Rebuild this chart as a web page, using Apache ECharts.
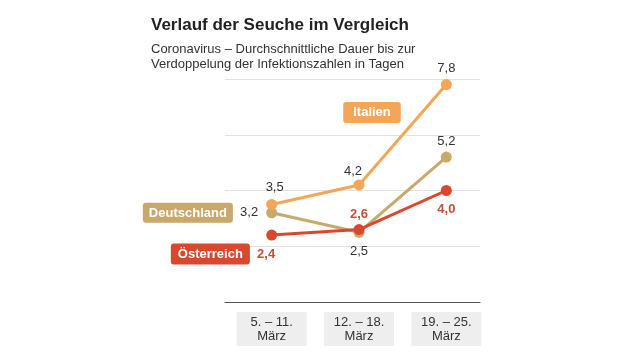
<!DOCTYPE html>
<html>
<head>
<meta charset="utf-8">
<script src="https://cdn.jsdelivr.net/npm/echarts@6/dist/echarts.min.js"></script>
<style>html,body{margin:0;padding:0;background:#fff}#c{width:630px;height:356px}</style>
</head>
<body>
<div id="c"></div>
<script>
const categories = ['5. – 11.\nMärz', '12. – 18.\nMärz', '19. – 25.\nMärz'];
const italien = [3.5, 4.2, 7.8];
const deutschland = [3.2, 2.5, 5.2];
const oesterreich = [2.4, 2.6, 4.0];
const yTicks = [0, 2, 4, 6, 8];
const italienBoxValue = 6.8;

const FONT = '"Liberation Sans", Arial, sans-serif';
const C_IT = '#f4a658', C_DE = '#c8a86b', C_AT = '#d9482c';
const fmt = v => v.toFixed(1).replace('.', ',');

function pts(vals, labels) {
  return vals.map((v, i) => ({ value: v, label: labels[i] }));
}

const chart = echarts.init(document.getElementById('c'), null, { renderer: 'canvas' });
const valLbl = { color: '#333', fontSize: 13, fontFamily: FONT };
const atLbl = { color: '#c0503a', fontSize: 13, fontWeight: 'bold', fontFamily: FONT };

chart.setOption({
  backgroundColor: '#fff',
  animation: false,
  title: {
    left: 146, top: 12,
    text: 'Verlauf der Seuche im Vergleich',
    textStyle: { fontSize: 17, fontWeight: 'bold', color: '#222', fontFamily: FONT },
    subtext: 'Coronavirus – Durchschnittliche Dauer bis zur\nVerdoppelung der Infektionszahlen in Tagen',
    subtextStyle: { fontSize: 13, color: '#333', lineHeight: 15, fontFamily: FONT },
    itemGap: 8
  },
  grid: [
    { left: 228, width: 262, top: 79, height: 223 },
    { left: 225, width: 255, top: 79, height: 223 }
  ],
  xAxis: [
    { gridIndex: 0, type: 'category', data: categories, boundaryGap: true,
      axisLine: { show: false }, axisTick: { show: false },
      axisLabel: { margin: 10, color: '#333', fontSize: 13, fontFamily: FONT, lineHeight: 14,
        backgroundColor: '#eeeeee', padding: [3, 0, 3, 0], width: 70, align: 'center' } },
    { gridIndex: 1, type: 'value', min: 0, max: 1, show: true,
      axisLine: { show: true, lineStyle: { color: '#555', width: 1.2 } },
      axisTick: { show: false }, axisLabel: { show: false }, splitLine: { show: false } }
  ],
  yAxis: [
    { gridIndex: 0, type: 'value', min: yTicks[0], max: yTicks[yTicks.length - 1], interval: 2, show: false },
    { gridIndex: 1, type: 'value', min: yTicks[0], max: yTicks[yTicks.length - 1], interval: 2,
      axisLine: { show: false }, axisTick: { show: false }, axisLabel: { show: false },
      splitLine: { lineStyle: { color: '#e2e2e2', width: 1 } } }
  ],
  series: [
    {
      name: 'Deutschland', type: 'line', xAxisIndex: 0, yAxisIndex: 0,
      symbol: 'circle', symbolSize: 11,
      lineStyle: { color: C_DE, width: 3 }, itemStyle: { color: C_DE },
      label: { show: true, formatter: p => fmt(p.value), ...valLbl },
      data: pts(deutschland, [
        { position: 'left', distance: 8,
          formatter: p => '{b|Deutschland}  {v|' + fmt(p.value) + '}',
          rich: {
            b: { backgroundColor: C_DE, color: '#fff', fontWeight: 'bold', fontSize: 13, fontFamily: FONT,
                 borderRadius: 3, padding: [4, 6, 3, 6] },
            v: { color: '#333', fontSize: 13, fontFamily: FONT }
          } },
        { position: 'bottom', distance: 7 },
        { position: 'top', distance: 4 }
      ])
    },
    {
      name: 'Österreich', type: 'line', xAxisIndex: 0, yAxisIndex: 0,
      symbol: 'circle', symbolSize: 11,
      lineStyle: { color: C_AT, width: 3 }, itemStyle: { color: C_AT },
      label: { show: true, formatter: p => fmt(p.value), ...atLbl },
      data: pts(oesterreich, [
        { position: 'left', distance: 0, offset: [9, 19],
          formatter: p => '{b|Österreich}  {v|' + fmt(p.value) + '}',
          rich: {
            b: { backgroundColor: C_AT, color: '#fff', fontWeight: 'bold', fontSize: 13, fontFamily: FONT,
                 borderRadius: 3, padding: [4, 7, 4, 7] },
            v: { color: '#c0503a', fontWeight: 'bold', fontSize: 13, fontFamily: FONT }
          } },
        { position: 'top', distance: 3 },
        { position: 'bottom', distance: 7 }
      ])
    },
    {
      name: 'Italien', type: 'line', xAxisIndex: 0, yAxisIndex: 0,
      symbol: 'circle', symbolSize: 11,
      lineStyle: { color: C_IT, width: 3 }, itemStyle: { color: C_IT },
      label: { show: true, formatter: p => fmt(p.value), ...valLbl },
      data: pts(italien, [
        { position: 'top', distance: 5, offset: [3, 0] },
        { position: 'top', distance: 2, offset: [-6, 0] },
        { position: 'top', distance: 4 }
      ]),
      markPoint: {
        symbol: 'circle', symbolSize: 0, silent: true,
        data: [{ coord: [1, italienBoxValue], value: 'Italien' }],
        label: { show: true, position: 'inside', offset: [13, 0], formatter: 'Italien',
          backgroundColor: C_IT, color: '#fff', fontWeight: 'bold', fontSize: 13, fontFamily: FONT,
          borderRadius: 3, padding: [4, 10, 4, 10] }
      }
    }
  ]
});
</script>
</body>
</html>
